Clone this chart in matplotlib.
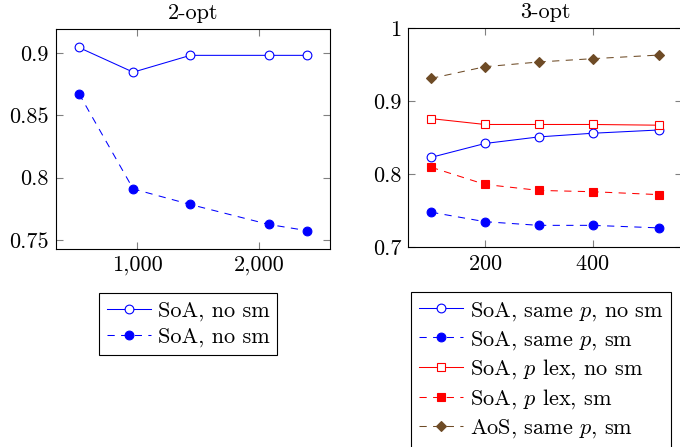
import matplotlib
matplotlib.use("Agg")
import matplotlib.pyplot as plt
from matplotlib.ticker import FuncFormatter, FixedLocator

plt.rcParams['font.family'] = 'serif'
plt.rcParams['font.serif'] = ['cmr10']
plt.rcParams['mathtext.fontset'] = 'cm'
plt.rcParams['axes.formatter.use_mathtext'] = True
plt.rcParams['font.size'] = 16
plt.rcParams['lines.scale_dashes'] = False

# 2-opt data
n2 = [520, 966, 1436, 2080, 2396]
soa_nosm_2 = [0.9045, 0.8847, 0.8982, 0.8982, 0.8982]
soa_sm_2 = [0.8675, 0.7910, 0.7785, 0.7625, 0.7575]

# 3-opt data
n3 = [100, 200, 300, 400, 524]
same_p_nosm = [0.823, 0.842, 0.851, 0.856, 0.8605]
same_p_sm = [0.748, 0.735, 0.730, 0.730, 0.7265]
plex_nosm = [0.876, 0.868, 0.868, 0.868, 0.867]
plex_sm = [0.8095, 0.786, 0.7778, 0.776, 0.772]
aos_same_p_sm = [0.931, 0.947, 0.9535, 0.958, 0.963]

blue = '#0000ff'
red = '#ff0000'
brown = '#6e4b26'
dash = (0, (5.2, 4.6))


def series(ax, x, y, c, m, filled, dashed, label, ms=6.3):
    ax.plot(x, y, color=c, lw=0.75, ls=dash if dashed else '-',
            marker=m, ms=ms, mec=c, mfc=c if filled else 'white',
            mew=0.8, label=label)


fig = plt.figure(figsize=(6.8, 4.47), dpi=100)
ax1 = fig.add_axes([0.0824, 0.443, 0.403, 0.492])
ax2 = fig.add_axes([0.6004, 0.4468, 0.403, 0.4906])

series(ax1, n2, soa_nosm_2, blue, 'o', False, False, 'SoA, no sm')
series(ax1, n2, soa_sm_2, blue, 'o', True, True, 'SoA, no sm')
ax1.set_xlim(332, 2584)
ax1.set_ylim(0.7428, 0.9193)
ax1.yaxis.set_major_locator(FixedLocator([0.75, 0.8, 0.85, 0.9]))
ax1.yaxis.set_major_formatter(FuncFormatter(lambda v, p: ('%g' % v)))
ax1.xaxis.set_major_locator(FixedLocator([1000, 2000]))
ax1.xaxis.set_major_formatter(FuncFormatter(lambda v, p: '{:,}'.format(int(v))))
ax1.set_title('2-opt', fontsize=16, pad=7)

series(ax2, n3, same_p_nosm, blue, 'o', False, False, 'SoA, same $p$, no sm')
series(ax2, n3, same_p_sm, blue, 'o', True, True, 'SoA, same $p$, sm')
series(ax2, n3, plex_nosm, red, 's', False, False, 'SoA, $p$ lex, no sm')
series(ax2, n3, plex_sm, red, 's', True, True, 'SoA, $p$ lex, sm')
series(ax2, n3, aos_same_p_sm, brown, 'D', True, True, 'AoS, same $p$, sm', ms=5.5)
ax2.set_xlim(57.6, 566.4)
ax2.set_ylim(0.7, 1.0)
ax2.yaxis.set_major_locator(FixedLocator([0.7, 0.8, 0.9, 1.0]))
ax2.yaxis.set_major_formatter(FuncFormatter(lambda v, p: ('%g' % v)))
ax2.xaxis.set_major_locator(FixedLocator([200, 400]))
ax2.set_title('3-opt', fontsize=16, pad=7)

for ax in (ax1, ax2):
    ax.tick_params(direction='in', length=5, width=0.8, color='0.5',
                   top=True, right=True, labelsize=16, pad=5)
    for s in ax.spines.values():
        s.set_linewidth(0.8)

leg_kw = dict(fontsize=16, loc='upper left', frameon=True, fancybox=False,
              edgecolor='black', framealpha=1, handlelength=2.0,
              handletextpad=0.3, labelspacing=0.28, borderpad=0.35,
              borderaxespad=0)
l1 = ax1.legend(bbox_to_anchor=(99 / 680, 1 - 293 / 447), bbox_transform=fig.transFigure, **leg_kw)
l2 = ax2.legend(bbox_to_anchor=(411 / 680, 1 - 292 / 447), bbox_transform=fig.transFigure, **leg_kw)
for l in (l1, l2):
    l.get_frame().set_linewidth(0.8)

fig.savefig('out.png', dpi=100)
